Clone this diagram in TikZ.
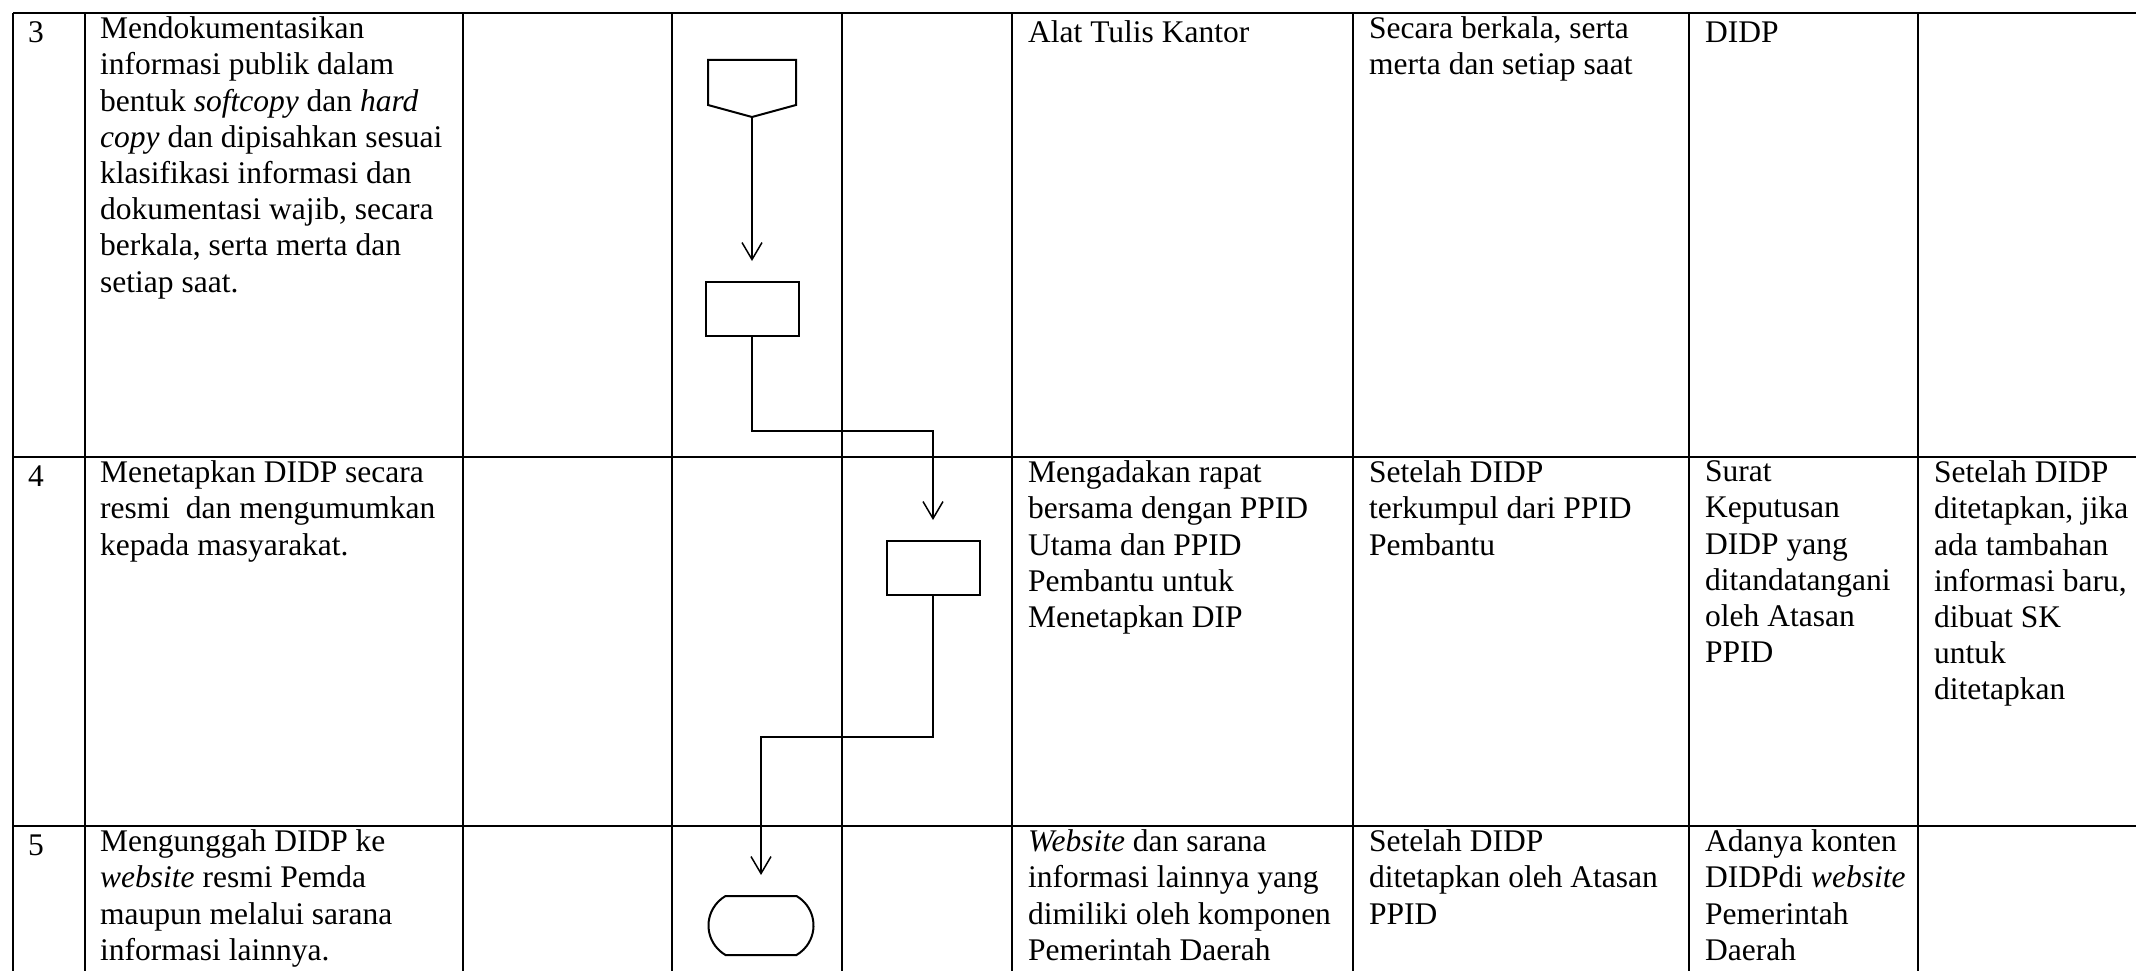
\documentclass[tikz,border=0pt]{standalone}
\usepackage{fontspec}
\setmainfont{Liberation Serif}
\usepackage{tikz}
\usetikzlibrary{arrows.meta, positioning, shapes.misc}
\definecolor{myink}{RGB}{0,0,0}
\tikzset{
  gridline/.style={line width=2pt, color=myink},
  celltext/.style={anchor=north west, inner sep=0pt, align=left,
    font=\fontsize{31.5}{36.2}\selectfont, execute at begin node=\strut},
  procbox/.style={rectangle, draw=myink, minimum width=93pt,
    minimum height=54pt, inner sep=0pt, line width=2pt},
  termbox/.style={rounded rectangle, rounded rectangle arc length=120,
    draw=myink, minimum width=105pt, minimum height=59pt, inner sep=0pt,
    line width=2pt},
  flowarrow/.style={-{Straight Barb[length=17pt, width=20pt]},
    line width=1.5pt, color=myink, shorten >=20pt}
}

\begin{document}
\begin{tikzpicture}[x=1pt, y=-1pt]
  \useasboundingbox (0,0) rectangle (2136,971);

  \draw[gridline] (13,13) -- (2136,13) (13,457) -- (2136,457) (13,826) -- (2136,826);
  \draw[gridline] (13,13) -- (13,971) (85,13) -- (85,971) (463,13) -- (463,971)
    (672,13) -- (672,971) (842,13) -- (842,971) (1012,13) -- (1012,971)
    (1353,13) -- (1353,971) (1689,13) -- (1689,971) (1918,13) -- (1918,971);

  \draw[line width=2pt, color=myink] (708,60) -- (796,60) -- (796,105)
    -- (752,117) -- (708,105) -- cycle;
  \coordinate (offtip) at (752,117);
  \node[procbox] (collect) at (752,309) {};
  \node[procbox] (decide) at (933,568) {};
  \node[termbox] (upload) at (761,925.5) {};
  \coordinate (turnA) at (0,431);
  \coordinate (turnB) at (0,737);

  \draw[flowarrow] (offtip) -- (collect.north);
  \draw[flowarrow] (collect.south) -- (collect.south |- turnA) -| (decide.north);
  \draw[flowarrow] (decide.south) -- (decide.south |- turnB) -| (upload.north);

  \node[celltext] (no3) at (28,16.7) {3};
  \node[celltext] (task3) at (100,16.7) {Mendokumentasikan\\informasi publik dalam\\
    bentuk \textit{softcopy} dan \textit{hard}\\\textit{copy} dan dipisahkan sesuai\\
    klasifikasi informasi dan\\dokumentasi wajib, secara\\berkala, serta merta dan\\setiap saat.};
  \node[celltext] (tool3) at (1028,16.7) {Alat Tulis Kantor};
  \node[celltext] (time3) at (1369,16.7) {Secara berkala, serta\\merta dan setiap saat};
  \node[celltext] (out3) at (1705,16.7) {DIDP};

  \node[celltext] (no4) at (28,460.7) {4};
  \node[celltext] (task4) at (100,460.7) {Menetapkan DIDP secara\\resmi\ \ dan mengumumkan\\kepada masyarakat.};
  \node[celltext] (tool4) at (1028,460.7) {Mengadakan rapat\\bersama dengan PPID\\Utama dan PPID\\
    Pembantu untuk\\Menetapkan DIP};
  \node[celltext] (time4) at (1369,460.7) {Setelah DIDP\\terkumpul dari PPID\\Pembantu};
  \node[celltext] (out4) at (1705,460.7) {Surat\\Keputusan\\DIDP yang\\ditandatangani\\oleh Atasan\\PPID};
  \node[celltext] (note4) at (1934,460.7) {Setelah DIDP\\ditetapkan, jika\\ada tambahan\\
    informasi baru,\\dibuat SK\\untuk\\ditetapkan};

  \node[celltext] (no5) at (28,829.7) {5};
  \node[celltext] (task5) at (100,829.7) {Mengunggah DIDP ke\\\textit{website} resmi Pemda\\
    maupun melalui sarana\\informasi lainnya.};
  \node[celltext] (tool5) at (1028,829.7) {\textit{Website} dan sarana\\informasi lainnya yang\\
    dimiliki oleh komponen\\Pemerintah Daerah};
  \node[celltext] (time5) at (1369,829.7) {Setelah DIDP\\ditetapkan oleh Atasan\\PPID};
  \node[celltext] (out5) at (1705,829.7) {Adanya konten\\DIDPdi \textit{website}\\Pemerintah\\Daerah};
\end{tikzpicture}
\end{document}
